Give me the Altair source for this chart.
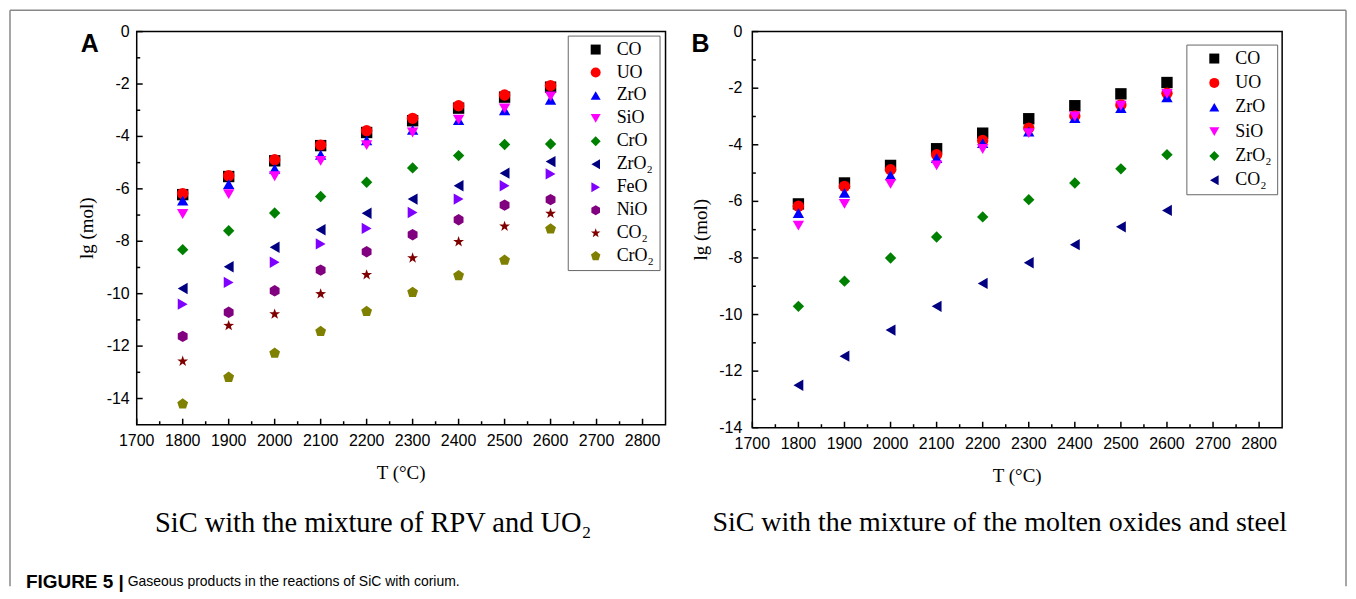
import altair as alt
import pandas as pd

# ---------------- data ----------------
T = [1800, 1900, 2000, 2100, 2200, 2300, 2400, 2500, 2600]

A_series = ["CO", "UO", "ZrO", "SiO", "CrO", "ZrO₂", "FeO", "NiO", "CO₂", "CrO₂"]
A_CO   = [-6.22, -5.53, -4.93, -4.35, -3.85, -3.40, -2.92, -2.50, -2.12]
A_UO   = [-6.18, -5.50, -4.89, -4.33, -3.78, -3.31, -2.83, -2.42, -2.06]
A_ZrO  = [-6.45, -5.82, -5.24, -4.70, -4.15, -3.75, -3.38, -3.00, -2.60]
A_SiO  = [-6.96, -6.20, -5.52, -4.93, -4.33, -3.85, -3.36, -2.93, -2.47]
A_CrO  = [-8.32, -7.60, -6.92, -6.29, -5.75, -5.20, -4.73, -4.31, -4.29]
A_ZrO2 = [-9.80, -8.97, -8.23, -7.56, -6.93, -6.39, -5.88, -5.40, -4.96]
A_FeO  = [-10.40, -9.57, -8.80, -8.10, -7.51, -6.90, -6.39, -5.88, -5.43]
A_NiO  = [-11.63, -10.71, -9.89, -9.10, -8.40, -7.75, -7.18, -6.62, -6.41]
A_CO2  = [-12.58, -11.22, -10.78, -10.01, -9.28, -8.64, -8.02, -7.43, -6.94]
A_CrO2 = [-14.21, -13.19, -12.27, -11.44, -10.68, -9.95, -9.31, -8.72, -7.53]

B_series = ["CO", "UO", "ZrO", "SiO", "ZrO₂", "CO₂"]
B_CO   = [-6.09, -5.35, -4.73, -4.14, -3.59, -3.08, -2.62, -2.20, -1.80]
B_UO   = [-6.17, -5.47, -4.88, -4.35, -3.85, -3.41, -2.98, -2.59, -2.18]
B_ZrO  = [-6.41, -5.70, -5.08, -4.47, -3.94, -3.53, -3.06, -2.70, -2.32]
B_SiO  = [-6.86, -6.09, -5.38, -4.73, -4.15, -3.59, -3.00, -2.62, -2.20]
B_ZrO2 = [-9.71, -8.82, -8.00, -7.26, -6.55, -5.94, -5.35, -4.85, -4.35]
B_CO2  = [-12.50, -11.47, -10.55, -9.71, -8.90, -8.17, -7.53, -6.90, -6.32]

X_LABELS = [1700, 1800, 1900, 2000, 2100, 2200, 2300, 2400, 2500, 2600, 2700, 2800]
X_MINOR = [1750, 1850, 1950, 2050, 2150, 2250, 2350, 2450, 2550, 2650, 2750]
Y_LABELS = [0, -2, -4, -6, -8, -10, -12, -14]
Y_MINOR = [-1, -3, -5, -7, -9, -11, -13]

X_TITLE = "T (°C)"
Y_TITLE = "lg (mol)"
SUB_A = "SiC with the mixture of RPV and UO₂"
SUB_B = "SiC with the mixture of the molten oxides and steel"
CAP_BOLD = "FIGURE 5 |"
CAP_TEXT = "Gaseous products in the reactions of SiC with corium."

# ---------------- styles ----------------
HEX = "M0,-1L0.866,-0.5L0.866,0.5L0,1L-0.866,0.5L-0.866,-0.5Z"
STAR = ("M0,-1L0.235,-0.324L0.951,-0.309L0.380,0.124L0.588,0.809L0,0.4"
        "L-0.588,0.809L-0.380,0.124L-0.951,-0.309L-0.235,-0.324Z")
PENT = "M0,-1L0.951,-0.309L0.588,0.809L-0.588,0.809L-0.951,-0.309Z"

A_colors = ["#000000", "#ff0000", "#0000ff", "#ff00ff", "#008000", "#000080",
            "#8000ff", "#800080", "#800000", "#808000"]
A_shapes = ["square", "circle", "triangle-up", "triangle-down", "diamond",
            "triangle-left", "triangle-right", HEX, STAR, PENT]
B_colors = ["#000000", "#ff0000", "#0000ff", "#ff00ff", "#008000", "#000080"]
B_shapes = ["square", "circle", "triangle-up", "triangle-down", "diamond", "triangle-left"]


def long(series, cols):
    rows = []
    for name, vals in zip(series, cols):
        for t, v in zip(T, vals):
            rows.append({"T": t, "v": v, "s": name})
    return pd.DataFrame(rows)


dfA = long(A_series, [A_CO, A_UO, A_ZrO, A_SiO, A_CrO, A_ZrO2, A_FeO, A_NiO, A_CO2, A_CrO2])
dfB = long(B_series, [B_CO, B_UO, B_ZrO, B_SiO, B_ZrO2, B_CO2])
one = pd.DataFrame({"k": [0]})


def txt(text, x, y, font, size, weight="normal", align="center", angle=0):
    return alt.Chart(one).mark_text(text=text, font=font, fontSize=size, fontWeight=weight,
                                    align=align, baseline="middle", color="black",
                                    angle=angle).encode(x=alt.value(x), y=alt.value(y))


def panel(df, series, colors, shapes, ydom, W, H, legx, legy, rowpad, label, labx,
          sub, subx, subsize, ylabx, ytitx, extras):
    xs = alt.Scale(domain=[1700, 2850], nice=False, zero=False)
    ys = alt.Scale(domain=ydom, nice=False, zero=False)
    leg = alt.Legend(orient="none", legendX=legx, legendY=legy, title=None,
                     strokeColor="#666666", fillColor="white", padding=5,
                     labelFont="Liberation Serif", labelFontSize=18, labelColor="black",
                     symbolSize=100, symbolStrokeWidth=0, rowPadding=rowpad,
                     labelOffset=12, symbolOffset=14)
    pts = alt.Chart(df).mark_point(filled=True, size=130, opacity=1, strokeWidth=0).encode(
        x=alt.X("T:Q", scale=xs, axis=None),
        y=alt.Y("v:Q", scale=ys, axis=None),
        color=alt.Color("s:N", scale=alt.Scale(domain=series, range=colors), legend=leg),
        shape=alt.Shape("s:N", scale=alt.Scale(domain=series, range=shapes), legend=leg),
    )
    rule = dict(color="black", strokeWidth=1.5)
    xmaj = alt.Chart(pd.DataFrame({"t": X_LABELS})).mark_rule(**rule).encode(
        x=alt.X("t:Q", scale=xs, axis=None), y=alt.value(H), y2=alt.value(H - 6))
    xmin = alt.Chart(pd.DataFrame({"t": X_MINOR})).mark_rule(**rule).encode(
        x=alt.X("t:Q", scale=xs, axis=None), y=alt.value(H), y2=alt.value(H - 3.5))
    ymaj = alt.Chart(pd.DataFrame({"t": Y_LABELS})).mark_rule(**rule).encode(
        y=alt.Y("t:Q", scale=ys, axis=None), x=alt.value(0), x2=alt.value(6))
    ymin = alt.Chart(pd.DataFrame({"t": Y_MINOR})).mark_rule(**rule).encode(
        y=alt.Y("t:Q", scale=ys, axis=None), x=alt.value(0), x2=alt.value(3.5))
    xlab = alt.Chart(pd.DataFrame({"t": X_LABELS, "lab": [str(v) for v in X_LABELS]})).mark_text(
        font="Liberation Sans", fontSize=16, color="black", baseline="middle", align="center"
    ).encode(x=alt.X("t:Q", scale=xs, axis=None), y=alt.value(H + 16.7), text="lab:N")
    ylab = alt.Chart(pd.DataFrame({"t": Y_LABELS, "lab": [str(v) for v in Y_LABELS]})).mark_text(
        font="Liberation Sans", fontSize=16, color="black", baseline="middle", align="right"
    ).encode(y=alt.Y("t:Q", scale=ys, axis=None), x=alt.value(ylabx), text="lab:N")
    xtit = txt(X_TITLE, W / 2, H + 48, "Liberation Serif", 19)
    ytit = txt(Y_TITLE, ytitx, H / 2, "Liberation Serif", 19, angle=270)
    lab = txt(label, labx, 12.7, "Liberation Sans", 25, weight="bold")
    subt = txt(sub, subx, 492.7, "Liberation Serif", subsize)
    return alt.layer(pts, xmaj, xmin, ymaj, ymin, xlab, ylab, xtit, ytit, lab, subt,
                     *extras).properties(width=W, height=H)


border = [
    alt.Chart(one).mark_rule(color="#888888", strokeWidth=1.5).encode(
        x=alt.value(-127), y=alt.value(-21.3), y2=alt.value(556)),
    alt.Chart(one).mark_rule(color="#888888", strokeWidth=1.5).encode(
        x=alt.value(-127), x2=alt.value(1212), y=alt.value(-21.3)),
    alt.Chart(one).mark_rule(color="#888888", strokeWidth=1.5).encode(
        x=alt.value(1212), y=alt.value(-21.3), y2=alt.value(556)),
    txt(CAP_BOLD, -111, 552, "Liberation Sans", 19, weight="bold", align="left"),
    txt(CAP_TEXT, -9, 552, "Liberation Sans", 14, align="left"),
]

pA = panel(dfA, A_series, A_colors, A_shapes, [-15, 0], 530, 394, 432, 4, 5,
           "A", -47, SUB_A, 237, 28.5, -7, -50, border)
pB = panel(dfB, B_series, B_colors, B_shapes, [-14, 0], 531, 397, 435, 13, 6.4,
           "B", -52, SUB_B, 248, 28, -10, -51, [])

chart = alt.HConcatChart(
    hconcat=[pA, pB], spacing=87, bounds="flush",
    padding={"left": 0, "top": 0, "right": 0, "bottom": 0},
).resolve_scale(
    x="independent", y="independent", color="independent", shape="independent"
).configure_view(stroke="black", strokeWidth=1.5)

chart.save("out.html", embed_options={"renderer": "svg", "actions": False})
